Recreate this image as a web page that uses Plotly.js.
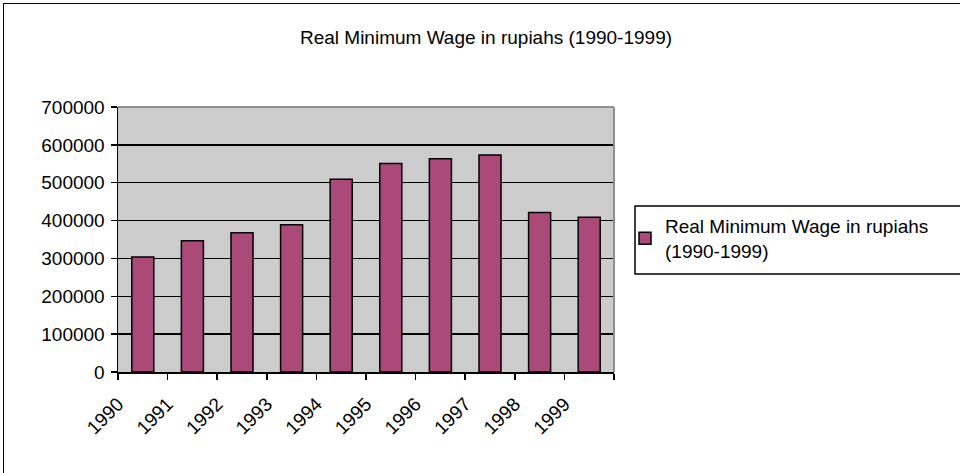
<!DOCTYPE html>
<html>
<head>
<meta charset="utf-8">
<script src="https://cdn.plot.ly/plotly-3.0.1.min.js"></script>
<style>
  html, body { margin: 0; padding: 0; background: #ffffff; overflow: hidden; }
  #chart { position: absolute; left: 0; top: 0; width: 960px; height: 473px; }
  #frame { position: absolute; left: 3px; top: 3px; width: 1000px; height: 520px;
           border: 1.5px solid #000; box-sizing: border-box; pointer-events: none; }
</style>
</head>
<body>
<div id="chart"></div>
<div id="frame"></div>
<script>
// ---- data ----
const years = ['1990','1991','1992','1993','1994','1995','1996','1997','1998','1999'];
const wages = [304000, 347000, 368000, 389000, 509000, 551000, 563000, 573000, 421000, 409000];
const seriesName = 'Real Minimum Wage in rupiahs<br>(1990-1999)';
const chartTitle = 'Real Minimum Wage in rupiahs (1990-1999)';

// bars sit in the middle of each category slot; tick labels sit on slot boundaries
const xPos = years.map((y, i) => i + 0.5);
const tickPos = years.map((y, i) => i).concat([years.length]);
const tickText = years.concat(['']);

const FONT = 'Liberation Sans, Arial, sans-serif';

// plot area in pixels (for converting legend box position to paper units)
const PL = 118, PR = 614, PT = 107, PB = 372;
const px2x = p => (p - PL) / (PR - PL);
const px2y = p => (PB - p) / (PB - PT);

const trace = {
  type: 'bar',
  x: xPos,
  y: wages,
  name: seriesName,
  width: 0.444,
  marker: { color: '#ab4a78', line: { color: '#000000', width: 1.5 } },
  showlegend: true,
  hoverinfo: 'y'
};

const layout = {
  width: 960,
  height: 473,
  margin: { l: PL, r: 960 - PR, t: PT, b: 473 - PB, pad: 0 },
  paper_bgcolor: '#ffffff',
  plot_bgcolor: '#cccccc',
  font: { family: FONT, size: 19, color: '#000' },
  title: {
    text: chartTitle,
    font: { family: FONT, size: 19, color: '#000' },
    x: 486 / 960, xref: 'container', xanchor: 'center',
    y: 1 - 37 / 473, yref: 'container', yanchor: 'middle'
  },
  xaxis: {
    range: [0, years.length],
    tickmode: 'array',
    tickvals: tickPos,
    ticktext: tickText,
    tickangle: -45,
    ticks: 'outside', ticklen: 6, tickwidth: 1.5, tickcolor: '#000',
    showline: true, linecolor: '#000', linewidth: 1.5,
    showgrid: false, zeroline: false,
    ticklabelstandoff: 6,
    tickfont: { family: FONT, size: 19, color: '#000' },
    fixedrange: true
  },
  yaxis: {
    range: [0, 700000],
    dtick: 100000, tick0: 0,
    tickformat: 'd',
    ticks: 'outside', ticklen: 6, tickwidth: 1.5, tickcolor: '#000',
    showline: true, linecolor: '#000', linewidth: 1.5,
    showgrid: true, gridcolor: '#000', gridwidth: 1.5,
    zeroline: false,
    ticklabelstandoff: 2,
    tickfont: { family: FONT, size: 19, color: '#000' },
    fixedrange: true
  },
  shapes: [
    { type: 'line', xref: 'paper', yref: 'paper', x0: 0, x1: 1, y0: 1, y1: 1,
      line: { color: '#909090', width: 2 } },
    { type: 'line', xref: 'paper', yref: 'paper', x0: 1, x1: 1, y0: 0, y1: 1,
      line: { color: '#909090', width: 2 } },
    // legend frame (runs off the right edge, as in the reference)
    { type: 'rect', xref: 'paper', yref: 'paper',
      x0: px2x(635), x1: px2x(990), y0: px2y(274), y1: px2y(206),
      fillcolor: '#ffffff', line: { color: '#000', width: 1.5 } }
  ],
  showlegend: true,
  legend: {
    x: px2x(625), xanchor: 'left',
    y: px2y(207), yanchor: 'top',
    bgcolor: 'rgba(0,0,0,0)',
    borderwidth: 0,
    font: { family: FONT, size: 19, color: '#000' },
    itemwidth: 30,
    traceorder: 'normal'
  },
  bargap: 0
};

Plotly.newPlot('chart', [trace], layout, { displayModeBar: false, staticPlot: true });
</script>
</body>
</html>
